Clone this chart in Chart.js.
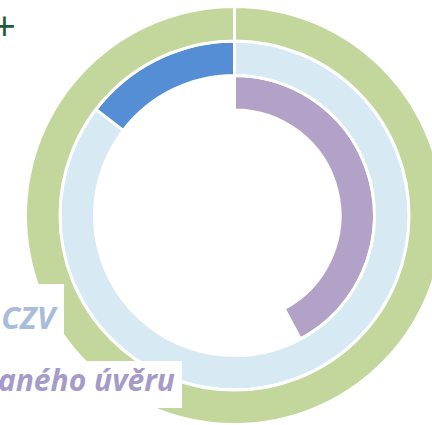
<!DOCTYPE html>
<html>
<head>
<meta charset="utf-8">
<script src="https://cdn.jsdelivr.net/npm/chart.js@4/dist/chart.umd.min.js"></script>
<style>
html, body { margin: 0; padding: 0; width: 432px; height: 425px; overflow: hidden; background: #fff; }
#wrap { position: absolute; left: 24px; top: 5px; width: 421px; height: 421px; }
.box { position: absolute; left: 0; background: #fff; overflow: hidden; white-space: nowrap;
  font-family: "Open Sans", sans-serif; font-weight: bold; font-style: italic; }
.box span { position: absolute; line-height: 1; }
#plus { position: absolute; left: -7px; top: 6px; font-family: "Open Sans", sans-serif; font-size: 40px; line-height: 1; color: #1e5b3c; }
</style>
</head>
<body>
<div id="plus">+</div>
<div id="wrap"><canvas id="ringChart" width="421" height="421"></canvas></div>
<div class="box" style="top:284px; width:64px; height:77px;"><span id="lblCzv" style="right:9px; top:18px; font-size:31px; color:#a8bddb;"></span></div>
<div class="box" style="top:361px; width:182px; height:47px;"><span id="lblUver" style="right:7px; top:4px; font-size:30px; color:#a59bc9;"></span></div>
<script>
// popisky prstenců (ořezané stejně jako v originále)
const labels = ['CZV', 'aného úvěru'];

// hodnoty v procentech, vnější -> vnitřní prstenec
const celkem = [100];
const czv = [85.4, 14.6];          // světle modrá zbytek, tmavě modrá podíl
const uver = [42.2, 57.8];         // fialová podíl, zbytek prázdný

document.getElementById('lblCzv').textContent = labels[0];
document.getElementById('lblUver').textContent = labels[1];

var ctx = document.getElementById('ringChart').getContext('2d');

var chart = new Chart(ctx, {
  type: 'doughnut',
  data: {
    datasets: [
      {
        data: celkem,
        backgroundColor: ['#c3d69b'],
        borderColor: '#ffffff',
        borderWidth: 3,
      },
      {
        data: czv,
        backgroundColor: ['#d7eaf3', '#558ed5'],
        borderColor: '#ffffff',
        borderWidth: 3,
      },
      {
        data: uver,
        backgroundColor: ['#b3a2c7', 'rgba(0,0,0,0)'],
        borderColor: ['#ffffff', 'rgba(0,0,0,0)'],
        borderWidth: [3, 0],
      },
    ],
  },
  options: {
    responsive: false,
    animation: false,
    cutout: '50.5%',
    layout: { padding: 0 },
    plugins: {
      legend: { display: false },
      tooltip: { enabled: false },
    },
  },
});
</script>
</body>
</html>
